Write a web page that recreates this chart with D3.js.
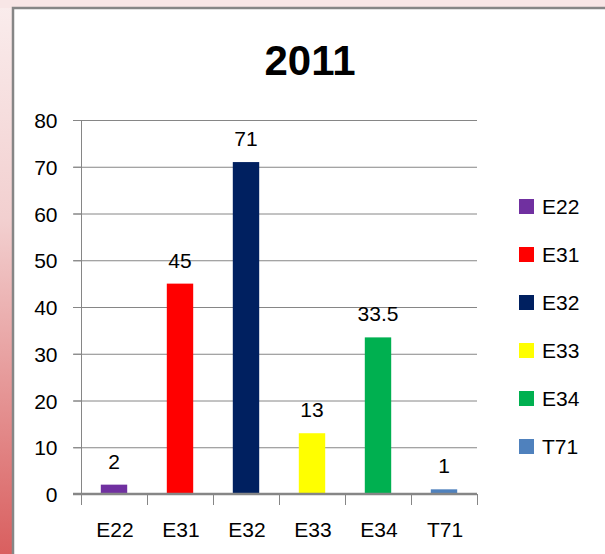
<!DOCTYPE html>
<meta charset="utf-8">
<style>
body { margin: 0; }
svg { display: block; font-family: "Liberation Sans", Arial, sans-serif; }
.grid line { stroke: #868686; stroke-width: 1; }
.axis path, .axis line { stroke: #868686; }
.axis text { fill: #000; font-size: 21px; }
.label { font-size: 21px; fill: #000; text-anchor: middle; }
.legend text { font-size: 21px; fill: #000; }
</style>
<svg width="605" height="554"></svg>
<script src="https://d3js.org/d3.v7.min.js"></script>
<script>

var categories = ["E22", "E31", "E32", "E33", "E34", "T71"],
    values = [2, 45, 71, 13, 33.5, 1],
    colors = ["#7030a0", "#ff0000", "#002060", "#ffff00", "#00b050", "#4f81bd"],
    yTicks = [0, 10, 20, 30, 40, 50, 60, 70, 80];

var svg = d3.select("svg"),
    plot = { left: 81, right: 477, top: 120, bottom: 494 };

// page background behind the chart box
var defs = svg.append("defs");
var grad = defs.append("linearGradient")
  .attr("id", "bg").attr("x1", 0).attr("y1", 0).attr("x2", 0).attr("y2", 1);
grad.append("stop").attr("offset", "0%").attr("stop-color", "#faeded");
grad.append("stop").attr("offset", "40%").attr("stop-color", "#f2cfcf");
grad.append("stop").attr("offset", "100%").attr("stop-color", "#d95f5f");

svg.append("rect").attr("width", 605).attr("height", 554).attr("fill", "url(#bg)");
svg.append("rect").attr("x", 0).attr("y", 0).attr("width", 605).attr("height", 8)
  .attr("fill", "#f8e6e6");

// chart box
svg.append("rect")
  .attr("x", 13).attr("y", 8)
  .attr("width", 610).attr("height", 560)
  .attr("fill", "#fff")
  .attr("stroke", "#868686")
  .attr("stroke-width", 2.5);

svg.append("text")
  .attr("x", 310).attr("y", 75)
  .attr("text-anchor", "middle")
  .style("font-size", "42px")
  .style("font-weight", "bold")
  .text("2011");

var x = d3.scaleBand()
  .domain(categories)
  .range([plot.left, plot.right])
  .paddingInner(0.6)
  .paddingOuter(0.3);

var xOuter = d3.scaleBand()
  .domain(categories)
  .range([plot.left, plot.right]);

var y = d3.scaleLinear()
  .domain([0, 80])
  .range([plot.bottom, plot.top]);

// gridlines
svg.append("g").attr("class", "grid")
  .selectAll("line")
  .data(yTicks.slice(1))
  .join("line")
  .attr("x1", plot.left - 8)
  .attr("x2", plot.right)
  .attr("y1", d => y(d) + 0.5)
  .attr("y2", d => y(d) + 0.5);

// y axis
var yAxis = svg.append("g").attr("class", "axis")
  .attr("transform", "translate(" + (plot.left + 0.5) + ",0)")
  .call(d3.axisLeft(y).tickValues(yTicks).tickSize(8).tickPadding(16));
yAxis.select(".domain").remove();
yAxis.append("line").attr("y1", plot.top).attr("y2", plot.bottom);
yAxis.selectAll("text").attr("dy", "0.36em");

// bars
svg.append("g")
  .selectAll("rect")
  .data(values)
  .join("rect")
  .attr("x", (d, i) => x(categories[i]))
  .attr("width", x.bandwidth())
  .attr("y", d => y(d))
  .attr("height", d => y(0) - y(d))
  .attr("fill", (d, i) => colors[i]);

// x axis
var xAxis = svg.append("g").attr("class", "axis")
  .attr("transform", "translate(0," + plot.bottom + ")");
xAxis.append("line")
  .attr("x1", plot.left - 8).attr("x2", plot.right)
  .attr("stroke-width", 2.5);
xAxis.selectAll(".tick")
  .data(categories.concat([null]))
  .join("line")
  .attr("x1", (d, i) => Math.round(plot.left + i * xOuter.step()) + 0.5)
  .attr("x2", (d, i) => Math.round(plot.left + i * xOuter.step()) + 0.5)
  .attr("y1", 0).attr("y2", 11);
xAxis.selectAll("text")
  .data(categories)
  .join("text")
  .attr("x", d => xOuter(d) + xOuter.bandwidth() / 2 + 1)
  .attr("y", 43)
  .attr("text-anchor", "middle")
  .text(d => d);

// data labels
svg.append("g")
  .selectAll("text")
  .data(values)
  .join("text")
  .attr("class", "label")
  .attr("x", (d, i) => x(categories[i]) + x.bandwidth() / 2)
  .attr("y", d => y(d) - 16)
  .text(d => d);

// legend
var legend = svg.append("g").attr("class", "legend")
  .selectAll("g")
  .data(categories)
  .join("g")
  .attr("transform", (d, i) => "translate(519," + (206 + i * 48) + ")");
legend.append("rect")
  .attr("x", 0).attr("y", -7)
  .attr("width", 15).attr("height", 15)
  .attr("fill", (d, i) => colors[i]);
legend.append("text")
  .attr("x", 23).attr("y", 8)
  .text(d => d);

</script>
